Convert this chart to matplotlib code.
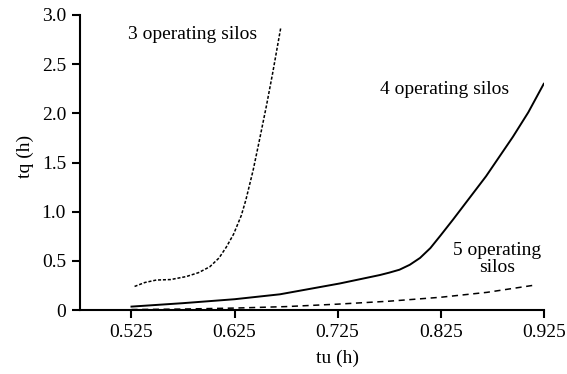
import numpy as np
import matplotlib.pyplot as plt
from matplotlib.ticker import FixedLocator, FuncFormatter

plt.rcParams['font.family'] = ['Liberation Serif', 'DejaVu Serif']

# 3 operating silos
tu3 = [0.528, 0.538, 0.549, 0.563, 0.578, 0.590, 0.601, 0.610, 0.617, 0.624, 0.6315,
       0.636, 0.643, 0.649, 0.656, 0.662, 0.670]
tq3 = [0.24, 0.28, 0.305, 0.31, 0.34, 0.38, 0.44, 0.53, 0.64, 0.77, 0.96,
       1.12, 1.42, 1.72, 2.08, 2.41, 2.88]

# 4 operating silos
tu4 = [0.525, 0.575, 0.625, 0.669, 0.727, 0.766, 0.775, 0.785, 0.795, 0.805, 0.815,
       0.825, 0.837, 0.853, 0.869, 0.882, 0.895, 0.910, 0.925]
tq4 = [0.035, 0.07, 0.11, 0.16, 0.27, 0.356, 0.38, 0.41, 0.46, 0.53, 0.63,
       0.76, 0.92, 1.14, 1.36, 1.56, 1.76, 2.01, 2.30]

# 5 operating silos
tu5 = [0.525, 0.575, 0.625, 0.675, 0.725, 0.775, 0.825, 0.870, 0.914]
tq5 = [0.005, 0.01, 0.02, 0.035, 0.06, 0.09, 0.13, 0.18, 0.25]

xticks = [0.525, 0.625, 0.725, 0.825, 0.925]
yticks = [0, 0.5, 1.0, 1.5, 2.0, 2.5, 3.0]

fig = plt.figure(figsize=(5.67, 3.74), dpi=100)
ax = fig.add_axes([0.141, 0.171, 0.818, 0.789])

ax.plot(tu3, tq3, color='k', lw=1.1, dashes=(2, 1.2))
ax.plot(tu4, tq4, color='k', lw=1.4)
ax.plot(tu5, tq5, color='k', lw=1.1, dashes=(4, 3))

ax.text(0.5216, 2.80, '3 operating silos', fontsize=14, ha='left', va='center')
ax.text(0.766, 2.24, '4 operating silos', fontsize=14, ha='left', va='center')
ax.text(0.880, 0.52, '5 operating\nsilos', fontsize=14, ha='center', va='center',
        linespacing=1.0)

ax.set_xlim(0.475, 0.925)
ax.set_ylim(0, 3.0)
ax.xaxis.set_major_locator(FixedLocator(xticks))
ax.yaxis.set_major_locator(FixedLocator(yticks))
ax.xaxis.set_major_formatter(FuncFormatter(lambda v, p: '%.3f' % v))
ax.yaxis.set_major_formatter(FuncFormatter(lambda v, p: '0' if v == 0 else '%.1f' % v))
ax.tick_params(direction='out', width=1.5, length=6, pad=4, labelsize=14)
for s in ['top', 'right']:
    ax.spines[s].set_visible(False)
for s in ['left', 'bottom']:
    ax.spines[s].set_linewidth(1.5)
ax.set_xlabel('tu (h)', fontsize=14)
ax.xaxis.set_label_coords(0.556, -0.135)
ax.set_ylabel('tq (h)', fontsize=14)
ax.yaxis.set_label_coords(-0.10, 0.52)

fig.savefig('out.png', dpi=100)
